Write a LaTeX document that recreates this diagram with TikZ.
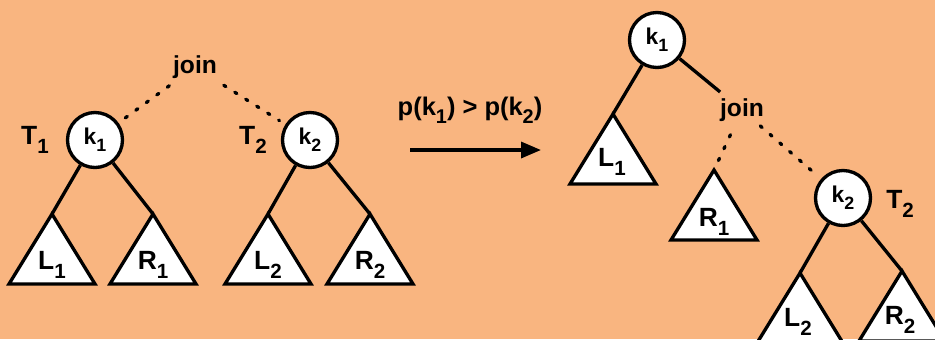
\documentclass[tikz,border=0pt]{standalone}
\usepackage{fontspec}
\setmainfont{Liberation Sans}
\usepackage{graphicx}
\usetikzlibrary{arrows.meta}
\definecolor{joinpeach}{RGB}{249,181,128}
\newcommand{\lsub}[1]{\raisebox{-0.32em}{\scalebox{0.78}{#1}}}

\begin{document}
\begin{tikzpicture}[x=0.02cm, y=-0.02cm,
  keynode/.style={circle, draw, fill=white, line width=1.9pt, minimum size=1.1cm, inner sep=0pt, font=\fontsize{13}{15}\selectfont\bfseries},
  subtri/.style={draw, fill=white, line width=1.9pt},
  sublabel/.style={font=\fontsize{15}{17}\selectfont\bfseries},
  treelabel/.style={font=\fontsize{15}{17}\selectfont\bfseries},
  joinlabel/.style={font=\fontsize{14}{16}\selectfont\bfseries, inner sep=1pt},
  condlabel/.style={font=\fontsize{14.5}{17}\selectfont\bfseries},
  treeedge/.style={line width=1.9pt},
  joinedge/.style={line width=1.9pt, line cap=round, dash pattern=on 1.4pt off 6pt}
]
  \useasboundingbox (0,0) rectangle (935,339);
  \clip (0,0) rectangle (935,339);
  \fill[joinpeach] (0,0) rectangle (935,339);

  % before the join
  \node[keynode] (k1) at (95,140) {k\lsub{1}};
  \node[treelabel] (t1) at (35,140) {T\lsub{1}};
  \node[keynode] (k2) at (310,140) {k\lsub{2}};
  \node[treelabel] (t2) at (253,140) {T\lsub{2}};
  \node[joinlabel] (join) at (195,67) {join};

  \coordinate (l1top) at (52,214);
  \coordinate (r1top) at (153,214);
  \coordinate (l2top) at (268,214);
  \coordinate (r2top) at (370,214);
  \draw[subtri] (l1top) -- ++(-43,70) -- ++(86,0) -- cycle;
  \draw[subtri] (r1top) -- ++(-43,70) -- ++(86,0) -- cycle;
  \draw[subtri] (l2top) -- ++(-43,70) -- ++(86,0) -- cycle;
  \draw[subtri] (r2top) -- ++(-43,70) -- ++(86,0) -- cycle;
  \node[sublabel] (l1) at (52,265) {L\lsub{1}};
  \node[sublabel] (r1) at (153,265) {R\lsub{1}};
  \node[sublabel] (l2) at (268,265) {L\lsub{2}};
  \node[sublabel] (r2) at (370,265) {R\lsub{2}};

  \draw[treeedge] (k1) -- (l1top);
  \draw[treeedge] (k1) -- (r1top);
  \draw[treeedge] (k2) -- (l2top);
  \draw[treeedge] (k2) -- (r2top);
  \draw[joinedge, shorten <=5pt] (join) -- (k1);
  \draw[joinedge, shorten <=5pt, shorten >=4pt] (join) -- (k2);

  % the rotation step
  \node[condlabel] (cond) at (470,110) {p(k\lsub{1}) > p(k\lsub{2})};
  \coordinate (arrs) at (410,150);
  \coordinate (arre) at (541,150);
  \draw[treeedge, -{Triangle[length=0.4cm, width=0.32cm]}] (arrs) -- (arre);

  % after the join
  \node[keynode] (rk1) at (657,40) {k\lsub{1}};
  \node[joinlabel] (rjoin) at (742,110) {join};
  \node[keynode] (rk2) at (843,198) {k\lsub{2}};
  \node[treelabel] (rt2) at (900,204) {T\lsub{2}};

  \coordinate (rl1top) at (613,114);
  \coordinate (rr1top) at (714,170);
  \coordinate (rl2top) at (800,273);
  \coordinate (rr2top) at (902,271);
  \draw[subtri] (rl1top) -- ++(-43,70) -- ++(86,0) -- cycle;
  \draw[subtri] (rr1top) -- ++(-43,70) -- ++(86,0) -- cycle;
  \draw[subtri] (rl2top) -- ++(-43,70) -- ++(86,0) -- cycle;
  \draw[subtri] (rr2top) -- ++(-43,70) -- ++(86,0) -- cycle;
  \node[sublabel] (rl1) at (612,162) {L\lsub{1}};
  \node[sublabel] (rr1) at (714,222) {R\lsub{1}};
  \node[sublabel] (rl2) at (798,322) {L\lsub{2}};
  \node[sublabel] (rr2) at (900,320) {R\lsub{2}};

  \draw[treeedge] (rk1) -- (rl1top);
  \draw[treeedge, shorten >=4pt] (rk1) -- (rjoin);
  \draw[joinedge, shorten <=7pt] (rjoin) -- (rr1top);
  \draw[joinedge, shorten <=2pt, shorten >=4pt] (rjoin) -- (rk2);
  \draw[treeedge] (rk2) -- (rl2top);
  \draw[treeedge] (rk2) -- (rr2top);
\end{tikzpicture}
\end{document}
